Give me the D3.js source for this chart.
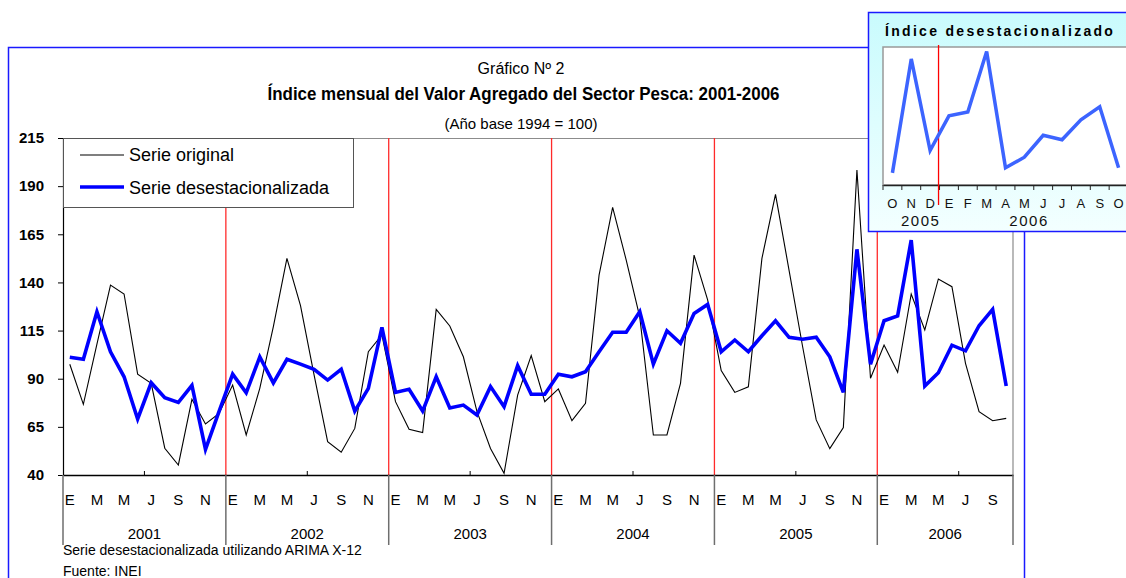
<!DOCTYPE html>
<html>
<head>
<meta charset="utf-8">
<script src="https://cdn.jsdelivr.net/npm/d3@7"></script>
<style>
  body { margin: 0; background: #fff; }
  text { font-family: "Liberation Sans", Arial, sans-serif; fill: #000; }
</style>
</head>
<body>
<div id="chart"></div>
<script>
// --- data (Jan 2001 .. Oct 2006) ---
const years = [2001, 2002, 2003, 2004, 2005, 2006];
const monthLetters = ["E", "F", "M", "A", "M", "J", "J", "A", "S", "O", "N", "D"];
const yTicks = [40, 65, 90, 115, 140, 165, 190, 215];

const serieOriginal = [
  97.5, 76.7, 108, 138.6, 134, 92.4, 87.6, 53.9, 45.2, 79.3, 66.5, 72,
  86.7, 60.8, 85, 117, 152.5, 128, 92, 57.3, 51.8, 64.2, 104, 112.7,
  78.1, 63.7, 62, 126, 117.4, 101.4, 73, 53.8, 40.9, 81.5, 102, 78.1,
  84.7, 68.2, 77.2, 143.8, 179, 151.6, 122, 60.8, 60.8, 87.6, 154.2, 130.9,
  94.2, 82.9, 85.8, 152.5, 185.7, 146.3, 106.6, 68.6, 53.7, 64.6, 198.4, 90.2,
  107.5, 93.3, 134, 115.3, 141.8, 137.8, 98, 72.9, 68.2, 69.4
];
const serieDesest = [
  101.1, 100.1, 124.8, 104, 91, 69.1, 87.9, 80.1, 77.7, 86.6, 53.3, 73,
  92.4, 82.7, 101.3, 87.8, 100.1, 97.6, 94.9, 89.3, 94.9, 73.2, 85, 116.7,
  82.9, 84.5, 73.2, 91, 74.8, 76.3, 71.2, 85.9, 75.5, 96.8, 81.9, 81.9,
  92.3, 91, 93.6, 104, 114.1, 114.1, 124.8, 97.6, 114.9, 108.4, 123.9, 128.6,
  104, 110.1, 104, 112.3, 120.1, 111.5, 110.5, 111.5, 101.4, 82.9, 157.2, 97.5,
  120.1, 122.6, 162, 86.2, 93.1, 107.4, 104.5, 117.5, 126, 86.2
];

// inset: Oct 2005 .. Oct 2006 of the seasonally adjusted series
const insetStart = 57;
const insetMonths = ["O", "N", "D", "E", "F", "M", "A", "M", "J", "J", "A", "S", "O"];
const insetYears = ["2005", "2006"];
const insetDomain = [75, 165];

const W = 1126, H = 578;
const margin = { top: 138, right: 113, bottom: 103, left: 63 };
const width = W - margin.left - margin.right;
const height = H - margin.top - margin.bottom;

const root = d3.select("#chart").append("svg")
    .attr("width", W)
    .attr("height", H);

// outer blue frame
root.append("rect")
    .attr("x", 8.5).attr("y", 47.5)
    .attr("width", 1016).attr("height", 600)
    .attr("fill", "none")
    .attr("stroke", "#1a1aff")
    .attr("stroke-width", 1.5);

// titles
root.append("text")
    .attr("x", 521).attr("y", 74)
    .attr("text-anchor", "middle")
    .style("font-size", "16px")
    .text("Gráfico Nº 2");

root.append("text")
    .attr("x", 523.5).attr("y", 100)
    .attr("text-anchor", "middle")
    .attr("textLength", 512)
    .attr("lengthAdjust", "spacingAndGlyphs")
    .style("font-size", "18px")
    .style("font-weight", "bold")
    .text("Índice mensual del Valor Agregado del Sector Pesca: 2001-2006");

root.append("text")
    .attr("x", 521).attr("y", 129)
    .attr("text-anchor", "middle")
    .style("font-size", "15px")
    .text("(Año base 1994 = 100)");

const svg = root.append("g")
    .attr("transform", `translate(${margin.left}, ${margin.top})`);

const x = d3.scaleBand().domain(d3.range(serieOriginal.length)).range([0, width]);
const y = d3.scaleLinear().domain([40, 215]).range([height, 0]);
const cx = i => x(i) + x.bandwidth() / 2;

// plot border (top / right)
svg.append("path")
    .attr("d", `M0,0.5H${width}V${height}`)
    .attr("fill", "none")
    .attr("stroke", "#8c8c8c")
    .attr("stroke-width", 1.2);

// red year dividers
svg.selectAll(".yearline")
    .data(years.slice(1))
    .enter().append("line")
    .attr("class", "yearline")
    .attr("x1", (d, i) => x((i + 1) * 12)).attr("x2", (d, i) => x((i + 1) * 12))
    .attr("y1", 0).attr("y2", height)
    .attr("stroke", "#ff2a2a")
    .attr("stroke-width", 1.3);

// lines
const line = d3.line().x((d, i) => cx(i)).y(d => y(d));

svg.append("path")
    .datum(serieOriginal)
    .attr("d", line)
    .attr("fill", "none")
    .attr("stroke", "#000")
    .attr("stroke-width", 1.1);

svg.append("path")
    .datum(serieDesest)
    .attr("d", line)
    .attr("fill", "none")
    .attr("stroke", "#0000ff")
    .attr("stroke-width", 3.6)
    .attr("stroke-linejoin", "miter");

// y axis
const yAxis = svg.append("g")
    .call(d3.axisLeft(y).tickValues(yTicks).tickSize(5).tickSizeOuter(0).tickPadding(14));
yAxis.select(".domain").attr("stroke", "#000").attr("stroke-width", 1.2);
yAxis.selectAll("text")
    .style("font-size", "15px")
    .style("font-weight", "bold");

// x axis (month letters)
const xAxis = svg.append("g")
    .attr("transform", `translate(0, ${height})`)
    .call(d3.axisBottom(x)
        .tickValues(d3.range(0, serieOriginal.length, 2))
        .tickFormat(i => monthLetters[i % 12])
        .tickSize(0).tickSizeOuter(0).tickPadding(19));
xAxis.select(".domain").attr("stroke", "#000").attr("stroke-width", 1.4);
xAxis.selectAll("text").style("font-size", "15px");

// half-year tick marks
svg.selectAll(".halftick")
    .data(d3.range(6, serieOriginal.length, 12))
    .enter().append("line")
    .attr("x1", d => x(d)).attr("x2", d => x(d))
    .attr("y1", height - 4).attr("y2", height)
    .attr("stroke", "#000");

// year separators and labels
const bounds = years.map((d, i) => x(i * 12)).concat([width]);
svg.selectAll(".sep")
    .data(bounds)
    .enter().append("line")
    .attr("x1", d => d).attr("x2", d => d)
    .attr("y1", height).attr("y2", height + 70)
    .attr("stroke", "#6e6e6e")
    .attr("stroke-width", 1.5);

svg.selectAll(".yearlabel")
    .data(years)
    .enter().append("text")
    .attr("x", (d, i) => (bounds[i] + bounds[i + 1]) / 2)
    .attr("y", height + 64)
    .attr("text-anchor", "middle")
    .style("font-size", "15px")
    .text(d => d);

// legend
const legend = svg.append("g");
legend.append("rect")
    .attr("x", 0.5).attr("y", 0.5)
    .attr("width", 290).attr("height", 69)
    .attr("fill", "#fff")
    .attr("stroke", "#555")
    .attr("stroke-width", 1);
[["Serie original", "#000", 1.2, 17, 22.7], ["Serie desestacionalizada", "#0000ff", 3.6, 49, 56]]
    .forEach(([label, col, sw, ly, ty]) => {
        legend.append("line")
            .attr("x1", 17).attr("x2", 61)
            .attr("y1", ly).attr("y2", ly)
            .attr("stroke", col).attr("stroke-width", sw);
        legend.append("text")
            .attr("x", 66).attr("y", ty)
            .style("font-size", "18px")
            .text(label);
    });

// footnotes
root.append("text")
    .attr("x", 63).attr("y", 555)
    .style("font-size", "14px")
    .text("Serie desestacionalizada utilizando ARIMA X-12");
root.append("text")
    .attr("x", 63).attr("y", 576)
    .style("font-size", "14px")
    .text("Fuente: INEI");

// --- inset ---
const defs = root.append("defs");
const grad = defs.append("linearGradient")
    .attr("id", "insetBg")
    .attr("x1", 0).attr("y1", 0).attr("x2", 0).attr("y2", 1);
grad.append("stop").attr("offset", "0%").attr("stop-color", "#c9fbfd");
grad.append("stop").attr("offset", "100%").attr("stop-color", "#f3ffff");

const inset = root.append("g");
inset.append("rect")
    .attr("x", 868.5).attr("y", 12.5)
    .attr("width", 300).attr("height", 219)
    .attr("fill", "url(#insetBg)")
    .attr("stroke", "#1a1aff")
    .attr("stroke-width", 1.5);

inset.append("text")
    .attr("x", 885).attr("y", 36)
    .style("font-size", "14px")
    .style("font-weight", "bold")
    .style("letter-spacing", "2.3px")
    .text("Índice desestacionalizado");

const insetData = serieDesest.slice(insetStart, insetStart + insetMonths.length);
const xIn = d3.scaleBand().domain(d3.range(insetMonths.length)).range([883, 883 + 245]);
const yIn = d3.scaleLinear().domain(insetDomain).range([185, 47]);

inset.append("rect")
    .attr("x", 883).attr("y", 47)
    .attr("width", 260).attr("height", 138)
    .attr("fill", "#fff")
    .attr("stroke", "#999")
    .attr("stroke-width", 1.5);

const inAxis = inset.append("g")
    .attr("transform", "translate(0, 185)")
    .call(d3.axisBottom(xIn).tickSize(0).tickSizeOuter(0).tickPadding(14)
        .tickFormat(i => insetMonths[i]));
inAxis.select(".domain").attr("stroke", "#222").attr("stroke-width", 1.5);
inAxis.selectAll("text").style("font-size", "13px").style("fill", "#111");

inset.selectAll(".intick")
    .data(d3.range(insetMonths.length))
    .enter().append("line")
    .attr("x1", d => xIn(d)).attr("x2", d => xIn(d))
    .attr("y1", 185).attr("y2", 190)
    .attr("stroke", "#222");

inset.append("line")
    .attr("x1", xIn(3) - 1).attr("x2", xIn(3) - 1)
    .attr("y1", 45).attr("y2", 205)
    .attr("stroke", "#ff0000")
    .attr("stroke-width", 1.3);

inset.append("path")
    .datum(insetData)
    .attr("d", d3.line().x((d, i) => xIn(i) + xIn.bandwidth() / 2).y(d => yIn(d)))
    .attr("fill", "none")
    .attr("stroke", "#3c64ff")
    .attr("stroke-width", 3.5);

inset.selectAll(".inyear")
    .data(insetYears)
    .enter().append("text")
    .attr("x", (d, i) => i === 0 ? xIn(2) : xIn(7) + xIn.bandwidth() * 0.75)
    .attr("y", 226)
    .attr("text-anchor", "middle")
    .style("font-size", "15px")
    .style("letter-spacing", "1.5px")
    .style("fill", "#111")
    .text(d => d);
</script>
</body>
</html>
